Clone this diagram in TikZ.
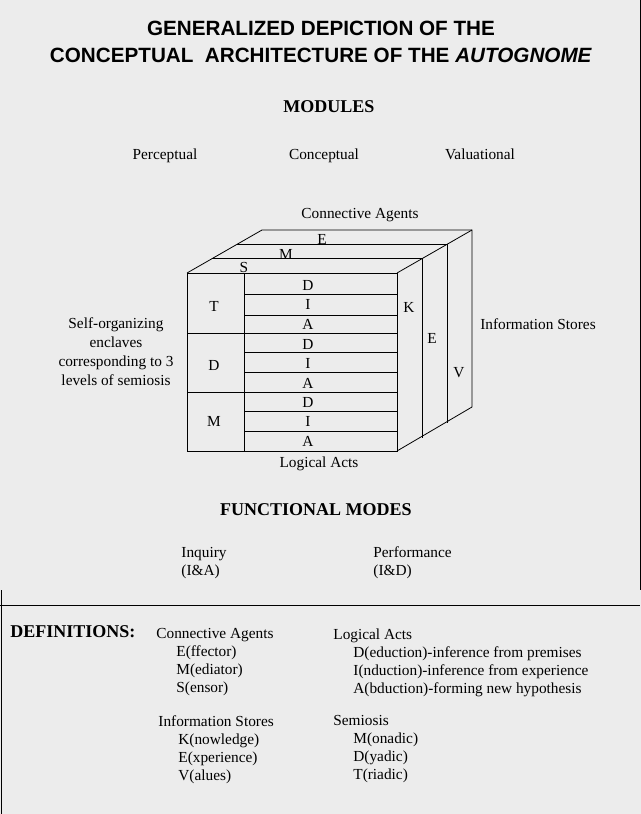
\documentclass[tikz,border=0pt]{standalone}
\usepackage{fontspec}
\setmainfont{Liberation Serif}
\newfontfamily\heads{Liberation Sans}
\usetikzlibrary{positioning,calc}
\tikzset{txt/.style={font=\fontsize{11.5}{13}\selectfont,inner sep=0pt}}
\tikzset{lbl/.style={txt,anchor=base}}
\tikzset{defs/.style={txt,align=left,anchor=north west,font=\fontsize{11.5}{13.5}\selectfont}}
\tikzset{hd/.style={inner sep=0pt,font=\fontsize{13.5}{15}\selectfont\bfseries}}

\begin{document}
\begin{tikzpicture}[x=0.75pt, y=-0.75pt, line width=0.6pt]
	\fill[gray!15] (0,0) rectangle (641,814);
	\useasboundingbox (0,0) rectangle (641,814);
	
	% frame
	\draw (640,0) -- (640,590);
	\draw (0,605) -- (640,605);
	\draw (1,590) -- (1,814);
	
	\node [font=\heads\fontsize{15.5}{20}\selectfont\bfseries, align=center] (title) at (321,42)
	{GENERALIZED DEPICTION OF THE\\CONCEPTUAL\ \ ARCHITECTURE OF THE \textit{AUTOGNOME}};
	
	\node [hd] (modules) at (329,107) {MODULES};
	\foreach \t/\x in {Perceptual/165,Conceptual/324,Valuational/480}
	\node [lbl] (mod-\t) at (\x,159) {\t};
	
	% cube
	\coordinate (f1) at (187,273); \coordinate (f2) at (397,273);
	\coordinate (f3) at (397,451); \coordinate (f4) at (187,451);
	\draw (f1) rectangle (f3);
	\draw (f1) -- ++(75,-43) -- ++(210,0) -- ++(0,177) -- (f3);
	\draw (f2) -- ++(75,-43);
	\foreach \k in {1,2}
	\draw ($(f1)+(\k*25,-\k*14.3)$) -- ++(210,0) -- ++(0,179);
	\draw (244,273) -- (244,451);
	\foreach \y in {294,315,333,352,372,392,411,431}
	\draw (244,\y) -- (397,\y);
	\draw (187,333) -- (244,333);
	\draw (187,392) -- (244,392);
	
	\foreach \t/\y [count=\i] in {T/306,D/365,M/421}
	\node [txt] (sem-\i) at (214,\y) {\t};
	\foreach \y [count=\i] in {285,344,402}{
		\node [txt] (d-\i) at (308,\y) {D};
		\node [txt] (i-\i) at (308,\y+19.5) {I};
		\node [txt] (a-\i) at (308,\y+39) {A};
	}
	\node [txt] (ag-s) at (244,267) {S};
	\node [txt] (ag-m) at (286,254) {M};
	\node [txt] (ag-e) at (322,239) {E};
	\node [txt] (st-k) at (409,307) {K};
	\node [txt] (st-e) at (432,338) {E};
	\node [txt] (st-v) at (459,373) {V};
	
	\node [txt] (agents) at (360,215) {Connective Agents};
	\node [txt] (stores) at (538,324) {Information Stores};
	\node [txt] (acts) at (319,464) {Logical Acts};
	\node [txt, align=center, font=\fontsize{11.5}{14.2}\selectfont] (enclaves) at (116,352)
	{Self-organizing\\enclaves\\corresponding to 3\\levels of semiosis};
	
	\node [hd] (fmodes) at (316,510) {FUNCTIONAL MODES};
	\node [defs] (inquiry) at (181,547) {Inquiry\\(I\&A)};
	\node [defs] (perf) at (373,546) {Performance\\(I\&D)};
	
	% definitions
	\node [hd, anchor=north west] (defin) at (10,625) {DEFINITIONS:};
	\node [defs] (d-agents) at (156,628) {Connective Agents\\\hspace*{15pt}E(ffector)\\\hspace*{15pt}M(ediator)\\\hspace*{15pt}S(ensor)};
	\node [defs] (d-acts) at (333,628) {Logical Acts\\\hspace*{15pt}D(eduction)-inference from premises\\\hspace*{15pt}I(nduction)-inference from experience\\\hspace*{15pt}A(bduction)-forming new hypothesis};
	\node [defs] (d-stores) at (158,715) {Information Stores\\\hspace*{15pt}K(nowledge)\\\hspace*{15pt}E(xperience)\\\hspace*{15pt}V(alues)};
	\node [defs] (d-sem) at (333,715) {Semiosis\\\hspace*{15pt}M(onadic)\\\hspace*{15pt}D(yadic)\\\hspace*{15pt}T(riadic)};
\end{tikzpicture}
\end{document}
